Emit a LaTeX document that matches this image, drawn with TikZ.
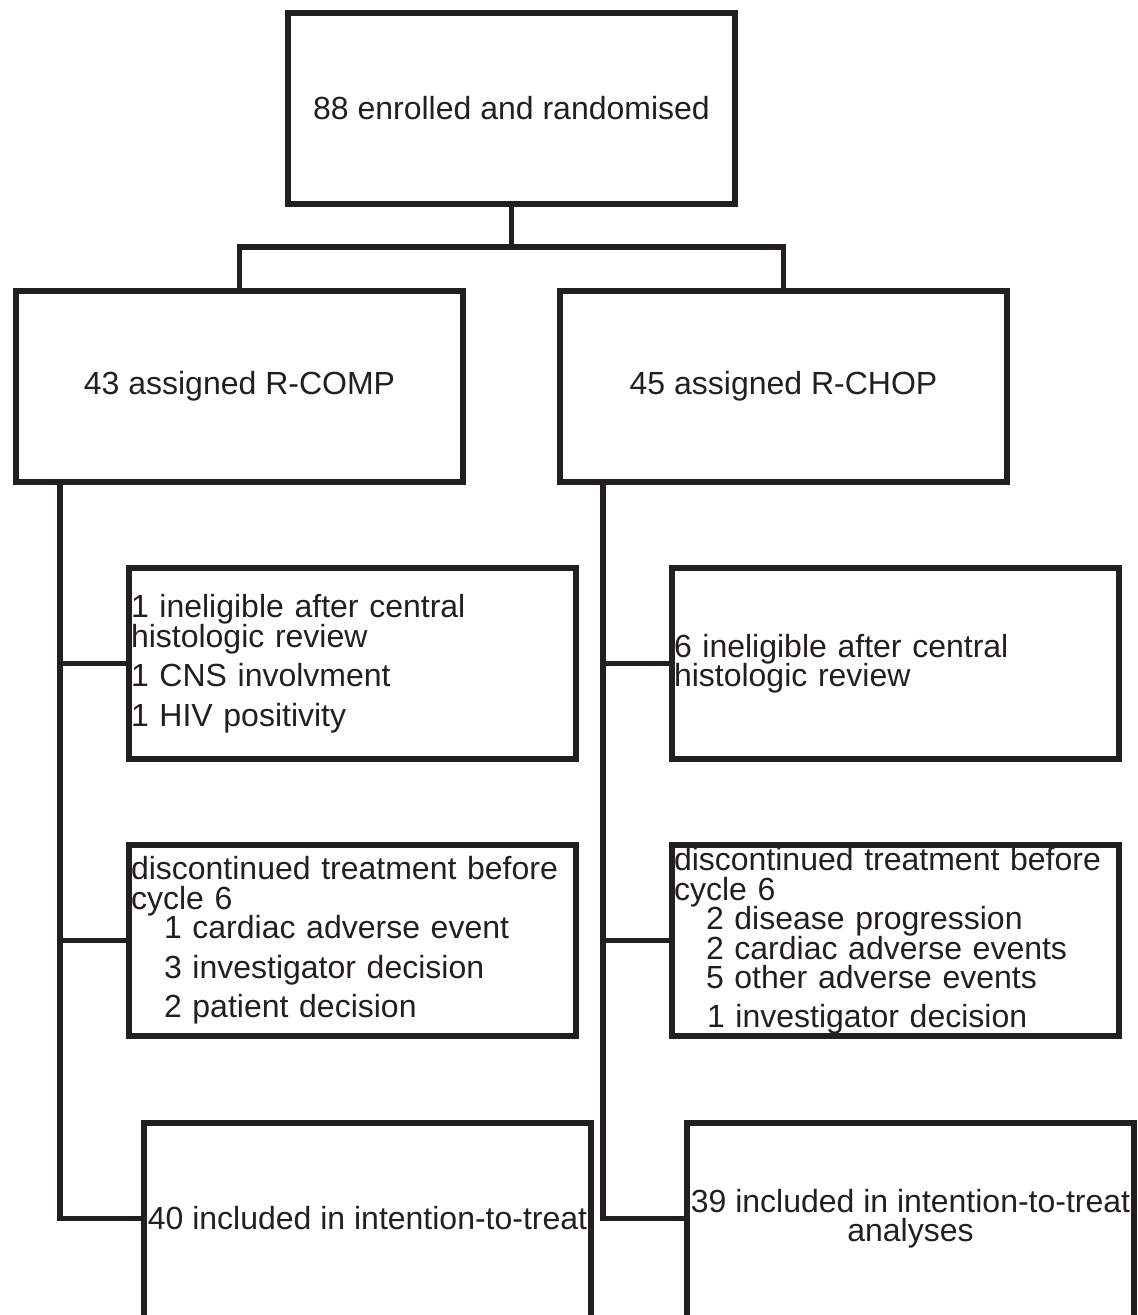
\documentclass[tikz,border=0pt]{standalone}
\usepackage{fontspec}
\setmainfont{Liberation Sans}
\definecolor{ink}{HTML}{231F20}
\newcommand\boxfont{\fontsize{32}{29.5}\selectfont\lineskiplimit=-100pt}
\begin{document}
\begin{tikzpicture}[x=1pt,y=-1pt,
  box/.style={draw=ink, line width=6pt, minimum width=447pt, minimum height=191pt,
    inner xsep=2pt, inner ysep=0pt, text=ink, font=\boxfont, anchor=north west, align=center},
  lbox/.style={box, align=left, text width=443pt},
  openbox/.style={box, draw=none, outer sep=0pt},
  frame/.style={draw=ink, line width=6pt, line join=miter},
  conn/.style={draw=ink, line width=5.5pt}]
\useasboundingbox (0,0) rectangle (1138,1315);

\node[box] (top) at (285,10) {88 enrolled and randomised};
\node[box] (comp) at (13,288) {43 assigned R-COMP};
\node[box] (chop) at (557,288) {45 assigned R-CHOP};

\node[lbox] (l1) at (126,565) {1 ineligible after central\\histologic review\\[10pt]1 CNS involvment\\[10pt]1 HIV positivity};
\node[lbox] (l2) at (126,842) {discontinued treatment before\\cycle 6\\\hspace*{33pt}1 cardiac adverse event\\[10pt]\hspace*{33pt}3 investigator decision\\[10pt]\hspace*{33pt}2 patient decision};
\node[openbox] (l3) at (144,1123) {40 included in intention-to-treat};

\node[lbox] (r1) at (669,565) {6 ineligible after central\\histologic review};
\node[lbox] (r2) at (669,842) {discontinued treatment before\\cycle 6\\\hspace*{32pt}2 disease progression\\\hspace*{32pt}2 cardiac adverse events\\\hspace*{32pt}5 other adverse events\\[9pt]\hspace*{33pt}1 investigator decision};
\node[openbox] (r3) at (687,1123) {39 included in intention-to-treat\\analyses};

% frames of the bottom boxes, running past the lower edge
\draw[frame] ([yshift=-30pt]l3.south west) -- (l3.north west) -- (l3.north east) -- ([yshift=-30pt]l3.south east);
\draw[frame] ([yshift=-30pt]r3.south west) -- (r3.north west) -- (r3.north east) -- ([yshift=-30pt]r3.south east);

\coordinate (split) at (511.5,247);
\coordinate (lx) at (60,0);
\coordinate (rx) at (603,0);

\draw[conn] (top.south) -- (split);
\draw[conn] (comp.north) |- (split) -| (chop.north);

\draw[conn] (comp.south -| lx) |- (l3.west);
\draw[conn] (l1.west -| lx) -- (l1.west);
\draw[conn] (l2.west -| lx) -- (l2.west);

\draw[conn] (chop.south -| rx) |- (r3.west);
\draw[conn] (r1.west -| rx) -- (r1.west);
\draw[conn] (r2.west -| rx) -- (r2.west);
\end{tikzpicture}
\end{document}
